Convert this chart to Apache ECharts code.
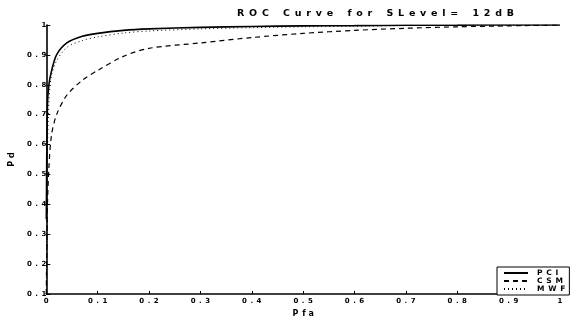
<!DOCTYPE html>
<html>
<head>
<meta charset="utf-8">
<script src="https://cdn.jsdelivr.net/npm/echarts@6/dist/echarts.min.js"></script>
<style>
  html, body { margin: 0; padding: 0; background: #fff; }
  #chart { width: 571px; height: 323px; }
</style>
</head>
<body>
<div id="chart"></div>
<script>
// false-alarm probability (x) and detection probability (y) per detector
const pfa = [0, 0.002, 0.005, 0.01, 0.02, 0.04, 0.07, 0.1, 0.15, 0.2, 0.3, 0.4, 0.5, 0.6, 0.7, 0.8, 0.9, 1]
const pdPCI = [0.35, 0.72, 0.8, 0.845, 0.9, 0.94, 0.962, 0.972, 0.982, 0.987, 0.992, 0.995, 0.997, 0.998, 0.999, 0.9995, 1, 1]
const pdCSM = [0.1, 0.38, 0.52, 0.63, 0.7, 0.765, 0.815, 0.848, 0.895, 0.922, 0.94, 0.958, 0.972, 0.982, 0.989, 0.994, 0.997, 1]
const pdMWF = [0.1, 0.55, 0.74, 0.83, 0.88, 0.925, 0.948, 0.96, 0.973, 0.98, 0.987, 0.991, 0.994, 0.996, 0.998, 0.999, 0.9995, 1]
const seriesNames = ['PCI', 'CSM', 'MWF']

// the old plot prints its text with wide letter spacing
const spaced = s => s.split('').join('\u2002')
const pairs = ys => pfa.map((x, i) => [x, ys[i]])

const font = 'DejaVu Sans'
const chart = echarts.init(document.getElementById('chart'))
chart.setOption({
  animation: false,
  title: {
    text: ['ROC', 'Curve', 'for', 'SLevel=', '12dB'].map(spaced).join('\u2003\u2002'),
    left: 232, top: 4,
    textStyle: { fontFamily: font, fontSize: 9.5, fontWeight: 'bold', color: '#000' },
  },
  grid: { left: 43, right: 11, top: 25, bottom: 19 },
  xAxis: {
    type: 'value', min: 0, max: 1, interval: 0.1,
    name: 'P\u2002f a', nameLocation: 'middle', nameGap: 16,
    nameTextStyle: { fontFamily: font, fontSize: 8, fontWeight: 'bold', color: '#000' },
    axisLine: { lineStyle: { color: '#000', width: 1.6 } },
    axisTick: { inside: true, length: 3, lineStyle: { color: '#000' } },
    axisLabel: {
      fontFamily: font, fontSize: 7, fontWeight: 'bold', color: '#000', margin: 4,
      formatter: v => v === 0 ? '0' : v === 1 ? '1' : spaced(v.toFixed(1)),
    },
    splitLine: { show: false },
  },
  yAxis: {
    type: 'value', min: 0.1, max: 1, interval: 0.1,
    name: 'P d', nameLocation: 'middle', nameGap: 27, nameRotate: 90,
    nameTextStyle: { fontFamily: font, fontSize: 8, fontWeight: 'bold', color: '#000' },
    axisLine: { lineStyle: { color: '#000', width: 1.6 } },
    axisTick: { inside: true, length: 4, lineStyle: { color: '#000' } },
    axisLabel: {
      fontFamily: font, fontSize: 7, fontWeight: 'bold', color: '#000', margin: 0,
      formatter: v => v >= 0.999 ? '1' : spaced(v.toFixed(1)),
    },
    splitLine: { show: false },
  },
  legend: {
    left: 497, top: 267, orient: 'vertical',
    backgroundColor: '#fff', borderColor: '#000', borderWidth: 1,
    padding: [2, 4, 2, 6], itemGap: 0, itemWidth: 24, itemHeight: 8,
    itemStyle: { opacity: 0 },
    textStyle: { fontFamily: font, fontSize: 7.5, fontWeight: 'bold', color: '#000', padding: [0, 0, 0, 4] },
    formatter: n => spaced(n),
    data: seriesNames,
  },
  series: [
    {
      name: seriesNames[0], type: 'line', data: pairs(pdPCI), smooth: 0.3, symbol: 'none',
      itemStyle: { color: '#000' },
      lineStyle: { color: '#000', width: 1.6, type: 'solid' },
    },
    {
      name: seriesNames[1], type: 'line', data: pairs(pdCSM), smooth: 0.3, symbol: 'none',
      itemStyle: { color: '#000' },
      lineStyle: { color: '#000', width: 1.2, type: [5, 4] },
    },
    {
      name: seriesNames[2], type: 'line', data: pairs(pdMWF), smooth: 0.3, symbol: 'none',
      itemStyle: { color: '#000' },
      lineStyle: { color: '#000', width: 1, type: [1, 3] },
    },
  ],
})
</script>
</body>
</html>
